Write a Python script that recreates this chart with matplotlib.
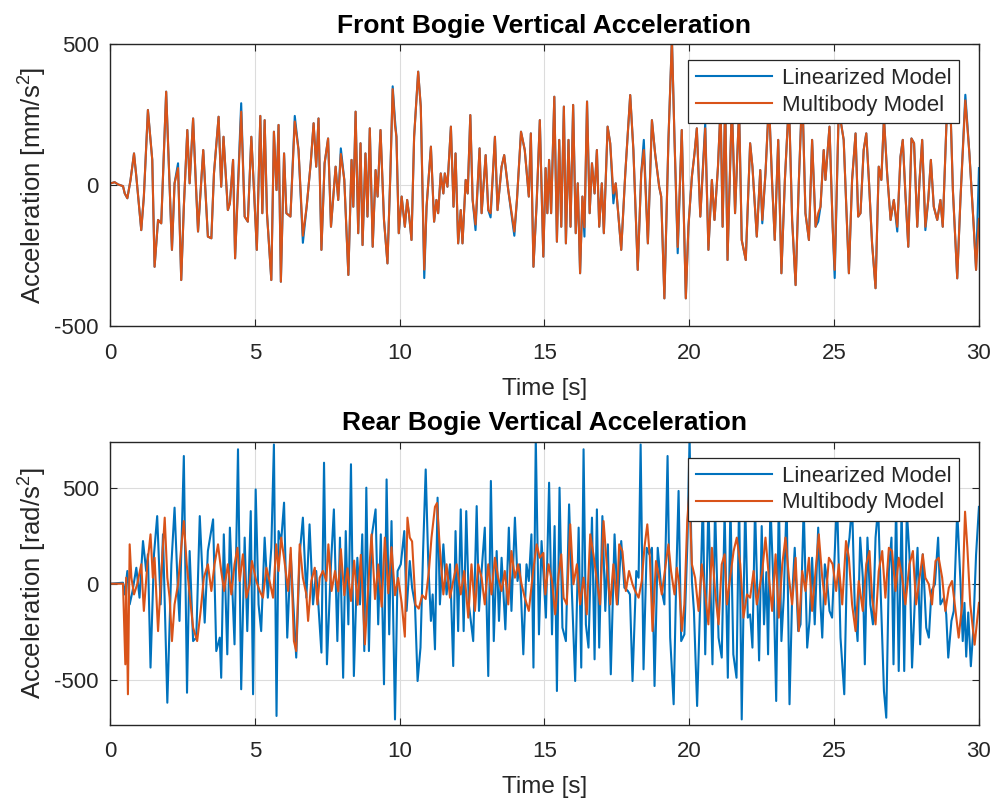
import numpy as np
import matplotlib
matplotlib.use("Agg")
import matplotlib.pyplot as plt

plt.rcParams['font.family'] = ['Liberation Sans', 'DejaVu Sans']
plt.rcParams['mathtext.fontset'] = 'custom'
plt.rcParams['mathtext.rm'] = 'Liberation Sans'
plt.rcParams['mathtext.it'] = 'Liberation Sans'
plt.rcParams['mathtext.bf'] = 'Liberation Sans:bold'
plt.rcParams['axes.unicode_minus'] = False

# ---------------- data ----------------
titles = ["Front Bogie Vertical Acceleration", "Rear Bogie Vertical Acceleration"]
ylabels = ["Acceleration [mm/s$^2$]", "Acceleration [rad/s$^2$]"]
series_names = ["Linearized Model", "Multibody Model"]
xticks = [0, 5, 10, 15, 20, 25, 30]
front_yticks = [-500, 0, 500]
rear_yticks = [-500, 0, 500]

front_time = [
    0.00, 0.16, 0.28, 0.45, 0.51, 0.60, 0.71, 0.83, 0.91, 1.08, 1.17, 1.31, 1.40, 1.46, 1.54, 1.66, 1.77, 1.94,
    2.14, 2.23, 2.35, 2.46, 2.55, 2.67, 2.75, 2.87, 2.95, 3.04, 3.22, 3.38, 3.50, 3.59, 3.75, 3.84, 3.92, 4.07,
    4.14, 4.25, 4.32, 4.53, 4.65, 4.76, 4.88, 4.96, 5.07, 5.19, 5.26, 5.34, 5.42, 5.57, 5.66, 5.75, 5.82, 5.90,
    6.01, 6.09, 6.23, 6.38, 6.51, 6.66, 6.79, 6.93, 7.03, 7.12, 7.20, 7.30, 7.41, 7.53, 7.63, 7.71, 7.79, 7.88,
    7.97, 8.09, 8.23, 8.34, 8.40, 8.48, 8.57, 8.65, 8.72, 8.82, 8.89, 8.97, 9.07, 9.17, 9.24, 9.34, 9.46, 9.58,
    9.68, 9.76, 9.84, 9.89, 9.97, 10.07, 10.18, 10.26, 10.32, 10.41, 10.50, 10.64, 10.73, 10.85, 10.93, 11.08,
    11.19, 11.27, 11.33, 11.42, 11.51, 11.56, 11.65, 11.77, 11.86, 11.93, 12.02, 12.11, 12.17, 12.28, 12.35,
    12.44, 12.52, 12.62, 12.76, 12.83, 12.97, 13.06, 13.14, 13.29, 13.38, 13.52, 13.61, 13.75, 13.96, 14.05,
    14.19, 14.32, 14.46, 14.53, 14.62, 14.73, 14.84, 14.96, 15.04, 15.10, 15.16, 15.23, 15.34, 15.43, 15.51,
    15.58, 15.67, 15.74, 15.83, 15.90, 15.99, 16.08, 16.15, 16.23, 16.31, 16.38, 16.47, 16.56, 16.64, 16.73,
    16.81, 16.89, 16.98, 17.05, 17.18, 17.27, 17.38, 17.46, 17.65, 17.79, 17.96, 18.07, 18.22, 18.34, 18.43,
    18.57, 18.71, 18.82, 18.96, 19.03, 19.14, 19.28, 19.40, 19.49, 19.60, 19.74, 19.88, 19.97, 20.09, 20.18,
    20.26, 20.38, 20.55, 20.66, 20.78, 20.87, 20.99, 21.08, 21.15, 21.24, 21.32, 21.47, 21.58, 21.72, 21.81,
    21.95, 22.10, 22.18, 22.33, 22.45, 22.52, 22.63, 22.75, 22.86, 22.95, 23.07, 23.18, 23.30, 23.44, 23.55,
    23.67, 23.78, 23.90, 24.01, 24.13, 24.24, 24.36, 24.45, 24.53, 24.64, 24.70, 24.84, 24.95, 25.02, 25.16,
    25.33, 25.51, 25.62, 25.74, 25.83, 25.91, 26.02, 26.11, 26.20, 26.31, 26.43, 26.54, 26.63, 26.72, 26.83,
    26.95, 27.06, 27.18, 27.29, 27.37, 27.46, 27.56, 27.67, 27.76, 27.87, 27.95, 28.04, 28.15, 28.25, 28.34,
    28.44, 28.56, 28.67, 28.75, 28.90, 29.02, 29.10, 29.25, 29.36, 29.53, 29.67, 29.82, 29.90, 30.00]

front_multibody = [
    5, 10, 2, -4, -30, -47, 18, 112, 30, -160, -41, 266, 160, 89, -290, -124, -136, 331,
    -230, 6, 60, -337, -77, 195, 6, 236, 41, -165, 124, -183, -189, 41, 242, -6, 171, -89,
    -65, 89, -260, 260, -112, -130, 171, 6, -230, 245, -100, 230, -100, -337, 189, -18, 213, -343,
    112, -100, -112, 225, 124, -180, -77, 77, 219, 65, 236, -230, 77, 165, -148, -41, 65, -53,
    110, 18, -319, 89, -77, 260, -171, 148, -213, 112, -112, 201, -219, 53, -41, 195, -124, -278,
    41, 340, 210, 171, -171, -41, -148, -53, -100, -195, 171, 402, 278, -300, -77, 136,
    -130, -53, -100, 41, -30, 41, -6, 207, -77, 112, -207, -89, -207, 18, -30,
    248, -53, -140, 130, -100, 106, -89, -100, 171, -89, 65, 106, -18, -165, -53,
    189, 124, -41, 183, -290, -65, 230, -254, 60, -100, 89, -100, 313, -201, 160,
    -148, 278, -207, 160, -148, 284, -171, 6, -313, -41, -150, 296, -100, 77, -30,
    124, -148, 6, -171, 207, 148, -30, 6, -230, 41, 319, 124, -301, 41, 124,
    -207, 230, 112, -6, -41, -402, 160, 520, 160, -220, 195, -402, -148, 30, 112,
    201, -112, 201, -230, 18, -124, 65, 280, -148, 300, -266, 290, -100, 270, -195,
    -266, 148, 65, -183, 53, -124, 41, 300, 6, -195, 160, -313, 18, 300, -124,
    -355, 6, 340, -100, -195, 160, -148, -100, -77, 124, 18, 207, -148, -301, 270,
    160, -313, 18, 183, -112, -100, 124, 183, 18, -207, -366, 65, 18, 240, 41,
    -124, -53, -148, 100, 160, -30, -219, 165, 148, -148, 18, 160, -148, -53, 89,
    -77, -124, -53, -148, 280, 260, -18, -331, -53, 300, 112, -148, -301, -120]

# points where the linearized curve departs visibly from the multibody curve
front_lin_dev_time = [2.35, 4.53, 6.38, 6.66, 7.97, 9.76, 9.84, 10.85, 12.62, 13.14, 13.96, 16.38,
                      17.38, 18.43, 19.60, 20.55, 22.52, 24.45, 25.02, 27.18, 28.15, 29.53, 30.00]
front_lin_dev_value = [77, 290, 245, -205, 130, 350, 230, -330, -160, -115, -180, -183,
                       -65, 160, -242, 220, -136, -130, -330, -165, -160, 320, 60]

rear_lin_time = [
    0.00, 0.45, 0.51, 0.60, 0.68, 0.78, 0.91, 1.02, 1.14, 1.25, 1.31, 1.40, 1.52, 1.63, 1.75, 1.83, 1.98,
    2.12, 2.23, 2.35, 2.40, 2.55, 2.66, 2.75, 2.87, 2.98, 3.10, 3.27, 3.38, 3.56, 3.67, 3.79, 3.84, 3.93,
    4.05, 4.14, 4.30, 4.42, 4.53, 4.65, 4.74, 4.86, 4.94, 5.03, 5.13, 5.22, 5.34, 5.45, 5.57, 5.66, 5.75,
    5.82, 5.91, 6.01, 6.12, 6.24, 6.32, 6.43, 6.55, 6.66, 6.78, 6.89, 7.01, 7.12, 7.30, 7.39, 7.49, 7.63,
    7.73, 7.85, 7.94, 8.05, 8.14, 8.23, 8.32, 8.42, 8.54, 8.63, 8.71, 8.78, 8.85, 8.94, 9.03, 9.17, 9.26,
    9.35, 9.46, 9.55, 9.64, 9.72, 9.84, 9.93, 10.04, 10.16, 10.24, 10.35, 10.43, 10.53, 10.62, 10.72,
    10.81, 10.90, 10.99, 11.08, 11.14, 11.22, 11.31, 11.39, 11.51, 11.62, 11.74, 11.85, 11.93, 12.02,
    12.11, 12.21, 12.30, 12.39, 12.54, 12.66, 12.74, 12.83, 12.94, 13.06, 13.15, 13.25, 13.35, 13.43,
    13.52, 13.65, 13.77, 13.86, 13.98, 14.07, 14.15, 14.27, 14.38, 14.46, 14.55, 14.62, 14.70, 14.81,
    14.90, 15.05, 15.16, 15.26, 15.35, 15.43, 15.52, 15.62, 15.74, 15.85, 15.95, 16.06, 16.18, 16.27,
    16.35, 16.43, 16.52, 16.64, 16.73, 16.81, 16.89, 17.00, 17.10, 17.19, 17.29, 17.42, 17.53, 17.65,
    17.76, 17.88, 17.95, 18.04, 18.17, 18.25, 18.32, 18.42, 18.53, 18.62, 18.71, 18.80, 18.91, 19.03,
    19.14, 19.25, 19.34, 19.46, 19.55, 19.63, 19.72, 19.83, 19.94, 20.01, 20.09, 20.16, 20.27, 20.38,
    20.47, 20.55, 20.66, 20.80, 20.89, 21.01, 21.12, 21.22, 21.33, 21.42, 21.52, 21.63, 21.72, 21.81,
    21.93, 22.02, 22.10, 22.18, 22.27, 22.41, 22.50, 22.58, 22.66, 22.72, 22.80, 22.92, 23.00, 23.09,
    23.18, 23.26, 23.36, 23.46, 23.55, 23.64, 23.76, 23.84, 23.95, 24.07, 24.15, 24.24, 24.33, 24.45,
    24.53, 24.59, 24.68, 24.76, 24.84, 24.93, 25.02, 25.10, 25.22, 25.35, 25.45, 25.53, 25.62, 25.71,
    25.81, 25.90, 25.99, 26.06, 26.15, 26.25, 26.34, 26.43, 26.52, 26.61, 26.72, 26.80, 26.89, 26.98,
    27.05, 27.14, 27.23, 27.33, 27.42, 27.51, 27.60, 27.69, 27.79, 27.88, 27.97, 28.06, 28.18, 28.27,
    28.36, 28.48, 28.59, 28.67, 28.79, 28.87, 28.94, 29.05, 29.13, 29.25, 29.36, 29.44, 29.50, 29.56,
    29.63, 29.72, 29.80, 29.90, 30.00]

rear_linearized = [
    0, 5, -56, 66, -108, -38, 83, -73, 222, 66, 153, -437, 153, 352, -108, 257, -620,
    101, 396, -56, -194, 665, -568, 170, -299, -281, 352, -203, 170, 335, -351, -281, -490, 257,
    -368, 292, -316, 700, -550, 240, -247, 378, -576, 491, -108, -247, 240, -73, 187, 725, -689,
    274, 222, 422, -281, 153, -73, -385, 153, 344, -73, 309, -108, 66, -359, 630, -420, 101,
    387, -299, 240, -490, 274, -212, 622, -481, 135, -108, 257, -351, 500, -351, 240, 387, -212,
    257, -524, 543, -264, 326, -707, 66, 101, 274, -142, 118, -21, -108, -507, -333,
    170, 595, 101, -194, -56, -342, 448, -108, 205, -56, 101, -429, 274, -247,
    387, -247, 378, -108, -299, 404, -142, 66, 292, -481, 535, -299, 170, -194,
    135, -238, 292, -142, 344, 14, 101, -368, 101, 14, 257, -437, 760, -264,
    222, -177, 526, -264, 300, -559, 500, -229, -299, 413, -56, -507, 292, -437,
    700, -212, -333, 344, -394, 387, -333, 352, -142, 205, -472, 257, -108, 222,
    -21, -38, -56, -507, 66, 31, 725, -446, 187, 153, 187, -533, 187, -21,
    -108, 665, -281, -628, 31, 483, -299, -264, 240, 760, 14, -142, -637, -73,
    450, -368, 420, -420, 400, -281, -385, 380, -490, 420, -368, -490, 450, -707,
    420, -177, -160, -333, 400, -400, 300, -212, 60, -368, 420, -73, -611, 450,
    -299, -73, 430, -628, -73, 187, -247, -212, 400, -333, -194, 135, -212, 292,
    -108, -281, 101, 14, -142, -177, 153, 450, -281, -576, 153, 240, 420, -108,
    -299, 240, 31, -420, 240, -108, -212, 240, 400, -56, -559, -698, 66, 240,
    -420, 420, -455, 400, -455, 380, 153, -437, -73, 187, -316, 153, -229, -281,
    -38, -3, 240, -108, -73, -160, -385, -194, -142, 380, 14, -299, -100, -380,
    -150, -430, -250, 150, 400]

rear_mb_time = [
    0.00, 0.45, 0.53, 0.56, 0.62, 0.68, 0.74, 0.83, 0.94, 1.08, 1.17, 1.29, 1.40, 1.48, 1.54, 1.66, 1.77,
    1.89, 1.98, 2.06, 2.14, 2.23, 2.35, 2.46, 2.55, 2.65, 2.75, 2.87, 3.01, 3.13, 3.24, 3.38, 3.50, 3.61,
    3.73, 3.84, 3.94, 4.07, 4.19, 4.30, 4.40, 4.48, 4.59, 4.71, 4.82, 4.90, 5.05, 5.17, 5.28, 5.40, 5.51,
    5.63, 5.74, 5.82, 5.91, 6.01, 6.15, 6.24, 6.35, 6.43, 6.55, 6.66, 6.78, 6.84, 6.95, 7.07, 7.16, 7.24,
    7.35, 7.47, 7.54, 7.65, 7.77, 7.88, 7.97, 8.09, 8.20, 8.32, 8.43, 8.55, 8.66, 8.80, 8.92, 9.03, 9.15,
    9.26, 9.38, 9.49, 9.61, 9.72, 9.84, 9.95, 10.07, 10.18, 10.27, 10.35, 10.43, 10.55, 10.66, 10.78,
    10.90, 11.01, 11.10, 11.22, 11.29, 11.39, 11.51, 11.62, 11.74, 11.85, 11.97, 12.11, 12.23, 12.37,
    12.48, 12.60, 12.71, 12.83, 12.94, 13.06, 13.17, 13.29, 13.40, 13.52, 13.63, 13.75, 13.86, 13.98,
    14.09, 14.21, 14.32, 14.46, 14.61, 14.73, 14.84, 14.96, 15.03, 15.14, 15.26, 15.37, 15.49, 15.58,
    15.66, 15.77, 15.89, 16.00, 16.12, 16.23, 16.35, 16.46, 16.58, 16.69, 16.81, 16.92, 17.04, 17.15,
    17.27, 17.38, 17.50, 17.58, 17.69, 17.81, 17.92, 18.04, 18.13, 18.25, 18.36, 18.45, 18.55, 18.64,
    18.73, 18.85, 18.96, 19.05, 19.17, 19.28, 19.37, 19.49, 19.57, 19.65, 19.74, 19.83, 19.93, 20.00,
    20.09, 20.20, 20.32, 20.43, 20.55, 20.66, 20.78, 20.89, 21.01, 21.12, 21.22, 21.30, 21.41, 21.53,
    21.64, 21.76, 21.87, 21.99, 22.10, 22.22, 22.33, 22.52, 22.63, 22.75, 22.86, 22.98, 23.09, 23.21,
    23.32, 23.44, 23.55, 23.67, 23.78, 23.90, 24.01, 24.13, 24.24, 24.36, 24.47, 24.59, 24.70, 24.82,
    24.95, 25.07, 25.16, 25.28, 25.41, 25.51, 25.62, 25.74, 25.85, 25.99, 26.11, 26.22, 26.31, 26.43,
    26.54, 26.66, 26.77, 26.89, 27.00, 27.12, 27.23, 27.35, 27.46, 27.60, 27.72, 27.83, 27.95, 28.06,
    28.15, 28.27, 28.38, 28.50, 28.61, 28.73, 28.84, 28.96, 29.07, 29.19, 29.30, 29.42, 29.52, 29.60,
    29.70, 29.85, 30.00]

rear_multibody = [
    0, 0, -420, 31, -576, 205, 31, -56, -3, 101, -142, 101, 257, 31, 135, -247, 49,
    344, 31, -73, -299, -108, -3, 187, 326, 101, -56, -229, -299, -142, 31, 101, -38, 101,
    205, 66, -38, 101, -56, 101, 187, 14, 153, -73, -3, 118, 14, -38, -73, 83, 14,
    -73, 205, 66, 240, 135, -38, 187, -299, -351, 205, 31, -56, -194, 14, 83, -108, 31,
    66, 14, 205, -38, 66, -40, 180, -60, 80, -90, 120, -110, 150, -316, 0, 257, -80,
    100, -120, 240, -50, 190, -60, 30, -100, -276, 344, 240, 220, -110, -130, -60,
    -80, 66, 240, 400, 420, 180, -56, 101, -73, 14, 101, -56, 66, -177,
    101, -142, 101, 31, -108, 101, -56, 135, 31, -38, 66, -108, 170, 31,
    101, -3, -73, -142, 66, 205, 135, 160, -56, 101, 14, -160, 49, 153,
    -73, -108, 309, -3, 101, -108, 31, -160, 257, 153, 14, -108, 326, 101,
    -108, 101, -108, 205, 170, -38, 66, -3, -38, -73, 14, 187, 309, 135,
    -247, 118, 31, -56, 83, 205, 66, -56, 83, -3, -247, -108, 326, 480,
    101, 31, -142, 101, -56, -212, 187, -38, -212, 101, 153, -108, 31, 170,
    240, 101, -177, -56, -73, 66, -108, 66, 240, 31, -142, 153, -177, 101,
    240, 31, -108, 135, -247, 66, -38, 135, -142, 66, 257, 31, -108, 135,
    101, -38, 101, -108, 222, 135, -108, -247, 14, -142, 101, 170, -73, -212,
    66, 170, -73, 187, 170, -38, 135, 31, -108, 101, 170, -108, 31, 153,
    31, -3, -108, 118, 135, 31, -142, -21, 14, -142, -281, -108, 375, 187,
    -108, -318, -100]

# ---------------- figure ----------------
BLUE = '#0072BD'
ORANGE = '#D95319'
DARK = '#262626'

fig = plt.figure(figsize=(9.97, 8.0), dpi=100)
ax1 = fig.add_axes([0.1103, 0.5925, 0.8716, 0.3525])
ax2 = fig.add_axes([0.1103, 0.0940, 0.8716, 0.3540])

ft = np.array(front_time)
fmb = np.array(front_multibody, dtype=float)
flin = fmb.copy()
for tt, vv in zip(front_lin_dev_time, front_lin_dev_value):
    flin[np.argmin(np.abs(ft - tt))] = vv

panels = [
    (ax1, ft, flin, ft, fmb, (-500, 500), front_yticks, titles[0], ylabels[0]),
    (ax2, np.array(rear_lin_time), np.array(rear_linearized), np.array(rear_mb_time),
     np.array(rear_multibody), (-735, 740), rear_yticks, titles[1], ylabels[1]),
]

for ax, t1, y1, t2, y2, ylim, yt, title, ylab in panels:
    ax.plot(t1, y1, color=BLUE, lw=1.5, label=series_names[0])
    ax.plot(t2, y2, color=ORANGE, lw=1.5, label=series_names[1])
    ax.set_xlim(0, 30)
    ax.set_ylim(*ylim)
    ax.set_xticks(xticks)
    ax.set_yticks(yt)
    ax.grid(True, color='#dcdcdc', lw=0.8)
    ax.set_axisbelow(True)
    for s in ax.spines.values():
        s.set_color(DARK)
        s.set_linewidth(1.0)
    ax.tick_params(direction='in', length=5, width=0.8, colors=DARK, labelsize=16,
                   top=True, right=True)
    ax.tick_params(axis='x', pad=12)
    ax.tick_params(axis='y', pad=8)
    ax.set_xlabel('Time [s]', fontsize=17.5, color=DARK, labelpad=10)
    ax.set_ylabel(ylab, fontsize=18.5, color=DARK, labelpad=4)
    ax.set_title(title, fontsize=19, fontweight='bold', color='black', pad=8)
    leg = ax.legend(loc='upper right', bbox_to_anchor=(0.977, 0.943), borderaxespad=0,
                    fontsize=16, frameon=True, fancybox=False, framealpha=1,
                    edgecolor=DARK, handlelength=3.4, handletextpad=0.45,
                    labelspacing=0.26, borderpad=0.35)
    leg.get_frame().set_linewidth(0.9)
    for txt in leg.get_texts():
        txt.set_color(DARK)

fig.savefig('out.png', dpi=100)
